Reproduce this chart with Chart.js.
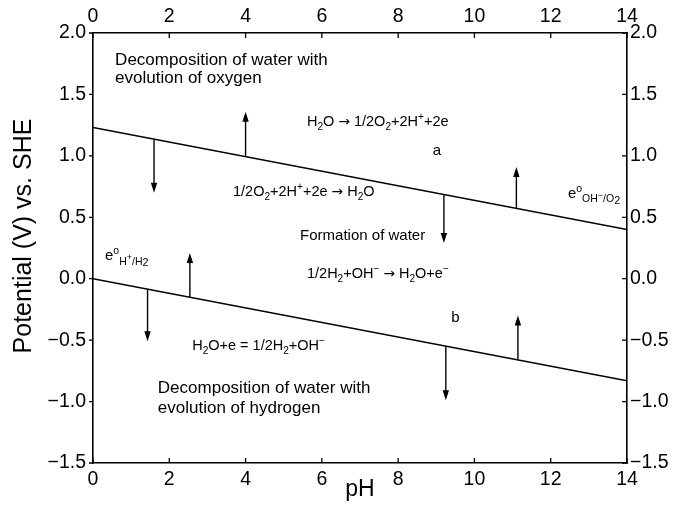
<!DOCTYPE html>
<html>
<head>
<meta charset="utf-8">
<script src="https://cdn.jsdelivr.net/npm/chart.js@4/dist/chart.umd.min.js"></script>
<style>
  html, body { margin: 0; padding: 0; background: #fff; }
  canvas { display: block; }
</style>
</head>
<body>
<canvas id="chart" width="676" height="507"></canvas>
<script>
// pH range and the two stability lines (value at pH 0 and pH 14)
const phEnds = [0, 14];
const lineA = [1.23, 0.40];
const lineB = [0.0, -0.83];

// arrows: [pH, start on line, tip]
const arrowsA = [[1.6, 1.135, 0.70], [4.0, 0.995, 1.36], [9.2, 0.687, 0.29], [11.1, 0.575, 0.91]];
const arrowsB = [[1.43, -0.085, -0.51], [2.54, -0.15, 0.21], [9.25, -0.546, -0.99], [11.14, -0.657, -0.30]];

const FONT = '"Liberation Sans", Arial, sans-serif';

// text notes placed in data units (pH, V); parts: [text, mode]
const notes = [
  { x: 0.58, y: 1.738, size: 17, parts: [["Decomposition of water with"]] },
  { x: 0.58, y: 1.592, size: 17, parts: [["evolution of oxygen"]] },
  { x: 5.61, y: 1.243, size: 14.5, parts: [["H"], ["2", "sub"], ["O "], ["\u2192", "arr"], [" 1/2O"], ["2", "sub"], ["+2H"], ["+", "sup"], ["+2e"]] },
  { x: 8.91, y: 1.007, size: 15, parts: [["a"]] },
  { x: 3.67, y: 0.673, size: 14.5, parts: [["1/2O"], ["2", "sub"], ["+2H"], ["+", "sup"], ["+2e "], ["\u2192", "arr"], [" H"], ["2", "sub"], ["O"]] },
  { x: 12.45, y: 0.657, size: 15, parts: [["e"], ["o", "sup"], ["OH", "sub"], ["\u2212", "subsup"], ["/O", "sub"], ["2", "subsub"]] },
  { x: 5.43, y: 0.315, size: 15, parts: [["Formation of water"]] },
  { x: 0.315, y: 0.152, size: 15, parts: [["e"], ["o", "sup"], ["H", "sub"], ["+", "subsup"], ["/H", "sub"], ["2", "subsub"]] },
  { x: 5.61, y: 0.006, size: 14.5, parts: [["1/2H"], ["2", "sub"], ["+OH"], ["\u2212", "sup"], [" "], ["\u2192", "arr"], [" H"], ["2", "sub"], ["O+e"], ["\u2212", "sup"]] },
  { x: 9.39, y: -0.352, size: 15, parts: [["b"]] },
  { x: 2.60, y: -0.580, size: 14.5, parts: [["H"], ["2", "sub"], ["O+e = 1/2H"], ["2", "sub"], ["+OH"], ["\u2212", "sup"]] },
  { x: 1.70, y: -0.930, size: 17, parts: [["Decomposition of water with"]] },
  { x: 1.70, y: -1.093, size: 17, parts: [["evolution of hydrogen"]] }
];

function drawRich(ctx, x, y, parts, size) {
  ctx.textAlign = "left";
  ctx.textBaseline = "alphabetic";
  for (const [t, m] of parts) {
    let s = size, dy = 0, fam = FONT;
    if (m === "sub") { s = size * 0.7; dy = size * 0.3; }
    if (m === "subsub") { s = size * 0.72; dy = size * 0.38; }
    if (m === "sup") { s = size * 0.7; dy = -size * 0.42; }
    if (m === "subsup") { s = size * 0.6; dy = size * 0.0; }
    if (m === "arr") { s = size * 0.95; dy = 0; fam = '"DejaVu Sans", sans-serif'; }
    ctx.font = s + "px " + fam;
    ctx.fillText(t, x, y + dy);
    x += ctx.measureText(t).width;
  }
}

const overlay = {
  id: "overlay",
  afterDatasetsDraw(chart) {
    const { ctx, scales } = chart;
    const X = scales.x, Y = scales.y;
    ctx.save();
    ctx.strokeStyle = "#000";
    ctx.fillStyle = "#000";
    ctx.lineWidth = 1.4;

    // arrows
    for (const [ph, from, to] of arrowsA.concat(arrowsB)) {
      const px = X.getPixelForValue(ph);
      const y0 = Y.getPixelForValue(from);
      const y1 = Y.getPixelForValue(to);
      const dir = y1 > y0 ? 1 : -1;
      ctx.beginPath();
      ctx.moveTo(px, y0);
      ctx.lineTo(px, y1 - dir * 8);
      ctx.stroke();
      ctx.beginPath();
      ctx.moveTo(px, y1);
      ctx.lineTo(px - 3.2, y1 - dir * 10);
      ctx.lineTo(px + 3.2, y1 - dir * 10);
      ctx.closePath();
      ctx.fill();
    }

    // notes
    for (const n of notes) {
      drawRich(ctx, X.getPixelForValue(n.x), Y.getPixelForValue(n.y), n.parts, n.size);
    }

    // tick marks: left outward, the rest inward
    ctx.lineWidth = 1.3;
    const ca = chart.chartArea;
    ctx.beginPath();
    for (const t of Y.ticks) {
      const py = Y.getPixelForValue(t.value);
      ctx.moveTo(ca.left, py); ctx.lineTo(ca.left - 4, py);
    }
    for (const t of scales.y2.ticks) {
      const py = scales.y2.getPixelForValue(t.value);
      ctx.moveTo(ca.right, py); ctx.lineTo(ca.right - 5, py);
    }
    for (const t of X.ticks) {
      const px = X.getPixelForValue(t.value);
      ctx.moveTo(px, ca.bottom); ctx.lineTo(px, ca.bottom - 5);
    }
    for (const t of scales.x2.ticks) {
      const px = scales.x2.getPixelForValue(t.value);
      ctx.moveTo(px, ca.top); ctx.lineTo(px, ca.top + 5);
    }
    ctx.stroke();

    // axis titles
    ctx.font = "25px " + FONT;
    ctx.textAlign = "center";
    ctx.textBaseline = "middle";
    ctx.save();
    ctx.translate(24, 236);
    ctx.rotate(-Math.PI / 2);
    ctx.fillText("Potential (V) vs. SHE", 0, 0);
    ctx.restore();
    ctx.font = "23px " + FONT;
    ctx.fillText("pH", 360, 490);
    ctx.restore();
  }
};

const vFmt = v => (v < 0 ? "\u2212" : "") + Math.abs(v).toFixed(1);
const tickFont = { family: FONT, size: 19.5 };
const noGrid = { display: false, drawTicks: false };
const border = { display: true, color: "#000", width: 1.6 };

const xAxis = (position, h, pad) => ({
  type: "linear", position, min: phEnds[0], max: phEnds[1],
  ticks: { stepSize: 2, font: tickFont, color: "#000", padding: pad, maxRotation: 0 },
  grid: noGrid, border,
  afterFit: s => { s.height = h; }
});
const yAxis = (position, w, pad) => ({
  type: "linear", position, min: -1.5, max: 2.0,
  ticks: { stepSize: 0.5, font: tickFont, color: "#000", padding: pad, callback: vFmt },
  grid: noGrid, border,
  afterFit: s => { s.width = w; }
});

const lineDs = (vals) => ({
  data: phEnds.map((ph, i) => ({ x: ph, y: vals[i] })),
  borderColor: "#000", borderWidth: 1.5, pointRadius: 0, fill: false
});

new Chart(document.getElementById("chart"), {
  type: "line",
  data: { datasets: [lineDs(lineA), lineDs(lineB)] },
  options: {
    responsive: false,
    animation: false,
    layout: { padding: 0 },
    plugins: { legend: { display: false }, tooltip: { enabled: false } },
    scales: {
      x: xAxis("bottom", 44, 5),
      x2: xAxis("top", 33, 5),
      y: yAxis("left", 93, 7),
      y2: yAxis("right", 49, 3)
    }
  },
  plugins: [overlay]
});
</script>
</body>
</html>
